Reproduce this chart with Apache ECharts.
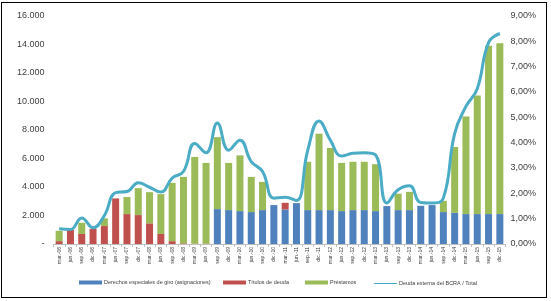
<!DOCTYPE html>
<html>
<head>
<meta charset="utf-8">
<script src="https://cdn.jsdelivr.net/npm/echarts@6/dist/echarts.min.js"></script>
<style>
    html, body { margin: 0; padding: 0; background: #fff; }
    #frame {
        position: absolute; left: 1px; top: 2px;
        width: 544px; height: 294px;
        border: 1px solid #000;
    }
    #chart { position: absolute; left: 0; top: 0; width: 551px; height: 301px; }
</style>
</head>
<body>
<div id="frame"></div>
<div id="chart"></div>
<script>
// trimestres
const categories = [
    'mar.-06', 'jun.-06', 'sep.-06', 'dic.-06',
    'mar.-07', 'jun.-07', 'sep.-07', 'dic.-07',
    'mar.-08', 'jun.-08', 'sep.-08', 'dic.-08',
    'mar.-09', 'jun.-09', 'sep.-09', 'dic.-09',
    'mar.-10', 'jun.-10', 'sep.-10', 'dic.-10',
    'mar.-11', 'jun.-11', 'sep.-11', 'dic.-11',
    'mar.-12', 'jun.-12', 'sep.-12', 'dic.-12',
    'mar.-13', 'jun.-13', 'sep.-13', 'dic.-13',
    'mar.-14', 'jun.-14', 'sep.-14', 'dic.-14',
    'mar.-15', 'jun.-15', 'sep.-15', 'dic.-15'
];

// Derechos especiales de giro (asignaciones)
const degData = [
    0, 0, 0, 0, 0, 0, 0, 0, 0, 0, 0, 0, 0, 0,
    2450, 2380, 2310, 2240, 2380, 2730, 2420, 2870, 2380, 2380,
    2380, 2310, 2380, 2380, 2310, 2660, 2380, 2380, 2680, 2730,
    2240, 2190, 2100, 2100, 2100, 2100
];

// Títulos de deuda
const titulosData = [
    200, 1000, 700, 1050, 1260, 3200, 2100, 2030, 1450, 700,
    200, 50, 30, 30, 0, 0, 0, 0, 0, 0,
    470, 0, 0, 0, 0, 0, 0, 0, 0, 0,
    0, 0, 0, 0, 0, 0, 0, 0, 0, 0
];

// Préstamos
const prestamosData = [
    730, 0, 790, 0, 540, 0, 1200, 1890, 2190, 2800,
    4090, 4660, 6080, 5660, 5050, 3310, 3910, 2470, 1980, 0,
    0, 0, 3390, 5360, 4360, 3380, 3390, 3390, 3290, 0,
    1150, 1280, 0, 0, 790, 4620, 6850, 8320, 11820, 11980
];

// Deuda externa del BCRA / Total (%)
const ratioData = [
    0.60, 0.57, 1.03, 0.64, 1.12, 2.03, 2.07, 2.42, 2.24, 2.05,
    2.60, 2.86, 3.97, 3.60, 4.78, 3.70, 4.10, 3.25, 2.86, 1.81,
    1.85, 1.72, 3.70, 4.86, 4.10, 3.47, 3.58, 3.60, 3.51, 1.62,
    2.14, 2.30, 1.64, 1.62, 1.81, 4.36, 5.43, 6.13, 7.95, 8.31
];

const seriesNames = [
    'Derechos especiales de giro (asignaciones)',
    'Títulos de deuda',
    'Préstamos',
    'Deuda externa del BCRA / Total'
];
const legendLeft = [79, 223, 305, 374];
const fontFamily = '"Liberation Sans", Arial, sans-serif';

const chart = echarts.init(document.getElementById('chart'));

const option = {
    animation: false,
    textStyle: { fontFamily: fontFamily },
    grid: {
        left: 53.5, right: 45.5, top: 16, bottom: 57,
        outerBoundsMode: 'none'
    },
    legend: seriesNames.map((name, i) => ({
        data: [name],
        left: legendLeft[i],
        top: i === 3 ? 280.5 : 279.5,
        padding: 0,
        icon: 'rect',
        itemWidth: 23,
        itemHeight: i === 3 ? 1 : 4,
        itemGap: 2,
        selectedMode: false,
        textStyle: {
            fontSize: 5.5, color: '#404040', fontFamily: fontFamily,
            padding: [0, 0, 0, -3]
        }
    })),
    xAxis: {
        type: 'category',
        data: categories,
        axisLine: { lineStyle: { color: '#bfbfbf', width: 1 } },
        axisTick: { show: true, length: 3, lineStyle: { color: '#bfbfbf' } },
        axisLabel: {
            rotate: 90,
            interval: 0,
            fontSize: 5,
            margin: 3,
            color: '#404040'
        }
    },
    yAxis: [
        {
            type: 'value',
            min: 0, max: 16000, interval: 2000,
            splitLine: { show: false },
            axisLine: { show: false },
            axisTick: { show: false },
            axisLabel: {
                fontSize: 9,
                color: '#404040',
                margin: 9,
                formatter: v => v === 0 ? '-' : v.toLocaleString('de-DE')
            }
        },
        {
            type: 'value',
            min: 0, max: 9, interval: 1,
            position: 'right',
            splitLine: { show: false },
            axisLine: { show: false },
            axisTick: { show: false },
            axisLabel: {
                fontSize: 9,
                color: '#404040',
                margin: 5,
                formatter: v => v.toFixed(2).replace('.', ',') + '%'
            }
        }
    ],
    series: [
        {
            name: seriesNames[0],
            type: 'bar',
            stack: 'deuda',
            barWidth: 7,
            data: degData,
            itemStyle: { color: '#4F81BD' }
        },
        {
            name: seriesNames[1],
            type: 'bar',
            stack: 'deuda',
            barWidth: 7,
            data: titulosData,
            itemStyle: { color: '#C0504D' }
        },
        {
            name: seriesNames[2],
            type: 'bar',
            stack: 'deuda',
            barWidth: 7,
            data: prestamosData,
            itemStyle: { color: '#9BBB59' }
        },
        {
            name: seriesNames[3],
            type: 'line',
            yAxisIndex: 1,
            smooth: 0.45,
            symbol: 'none',
            showSymbol: false,
            data: ratioData,
            itemStyle: { color: '#4BACC6' },
            lineStyle: { width: 3, color: '#4BACC6' }
        }
    ]
};

chart.setOption(option);
</script>
</body>
</html>
